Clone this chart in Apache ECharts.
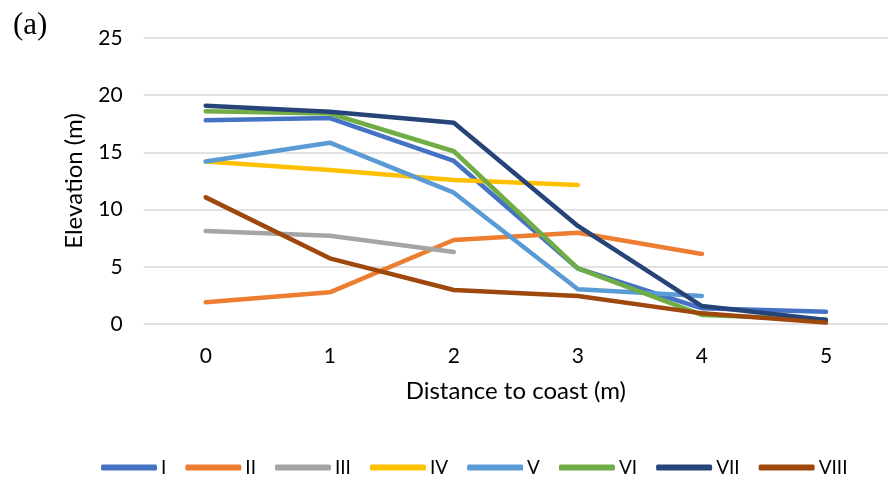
<!DOCTYPE html>
<html>
<head>
<meta charset="utf-8">
<script src="https://cdn.jsdelivr.net/npm/echarts@6/dist/echarts.min.js"></script>
<style>
  html, body { margin: 0; padding: 0; background: #fff; }
  #chart { width: 888px; height: 480px; }
</style>
</head>
<body>
<div id="chart"></div>
<script>
// Distance to coast (m)
const distances = ['0', '1', '2', '3', '4', '5'];

// Elevation profiles (m) for each transect
const profileI    = [17.8, 18.0, 14.25, 4.85, 1.37, 1.08];
const profileII   = [1.9, 2.77, 7.34, 7.98, 6.12, null];
const profileIII  = [8.13, 7.72, 6.29, null, null, null];
const profileIV   = [14.2, 13.46, 12.59, 12.15, null, null];
const profileV    = [14.2, 15.85, 11.48, 3.03, 2.45, null];
const profileVI   = [18.6, 18.4, 15.1, 4.87, 0.79, 0.4];
const profileVII  = [19.08, 18.56, 17.6, 8.57, 1.57, 0.35];
const profileVIII = [11.07, 5.74, 2.97, 2.45, 0.93, 0.12];

const yTicks = [0, 5, 10, 15, 20, 25];

const profiles = [
  { name: 'I',    data: profileI,    color: '#4472C4' },
  { name: 'II',   data: profileII,   color: '#ED7D31' },
  { name: 'III',  data: profileIII,  color: '#A5A5A5' },
  { name: 'IV',   data: profileIV,   color: '#FFC000' },
  { name: 'V',    data: profileV,    color: '#5B9BD5' },
  { name: 'VI',   data: profileVI,   color: '#70AD47' },
  { name: 'VII',  data: profileVII,  color: '#264478' },
  { name: 'VIII', data: profileVIII, color: '#9E480E' }
];

const chart = echarts.init(document.getElementById('chart'), null, { renderer: 'canvas' });

const labelFont = 'Lato, "Liberation Sans", sans-serif';

chart.setOption({
  animation: false,
  backgroundColor: '#ffffff',
  title: {
    text: '(a)',
    left: 8,
    top: 5,
    textStyle: { fontFamily: '"Liberation Serif", serif', fontSize: 31, fontWeight: 'normal', color: '#000' }
  },
  grid: { left: 143.7, top: 38, width: 748, height: 286, containLabel: false },
  legend: {
    top: 453,
    left: 96,
    icon: 'roundRect',
    itemWidth: 56,
    itemHeight: 6,
    itemGap: 19,
    textStyle: { fontFamily: labelFont, fontSize: 19, color: '#000', padding: [0, 0, 0, -1] },
    data: profiles.map(p => p.name)
  },
  xAxis: {
    type: 'category',
    data: distances,
    boundaryGap: true,
    name: 'Distance to coast (m)',
    nameLocation: 'middle',
    nameGap: 55,
    nameTextStyle: { fontFamily: labelFont, fontSize: 24, color: '#000' },
    axisLine: { show: false },
    axisTick: { show: false },
    axisLabel: { fontFamily: labelFont, fontSize: 21, color: '#000', margin: 22 }
  },
  yAxis: {
    type: 'value',
    min: yTicks[0],
    max: yTicks[yTicks.length - 1],
    interval: 5,
    name: 'Elevation (m)',
    nameLocation: 'middle',
    nameGap: 57,
    nameTextStyle: { fontFamily: labelFont, fontSize: 24, color: '#000' },
    axisLine: { show: false },
    axisTick: { show: false },
    axisLabel: { fontFamily: labelFont, fontSize: 21, color: '#000', margin: 21 },
    splitLine: { lineStyle: { color: '#D9D9D9', width: 1.5 } }
  },
  series: profiles.map(p => ({
    name: p.name,
    type: 'line',
    data: p.data,
    symbol: 'none',
    connectNulls: false,
    color: p.color,
    lineStyle: { color: p.color, width: 4.5, cap: 'round', join: 'round' },
    itemStyle: { color: p.color }
  }))
});
</script>
</body>
</html>
